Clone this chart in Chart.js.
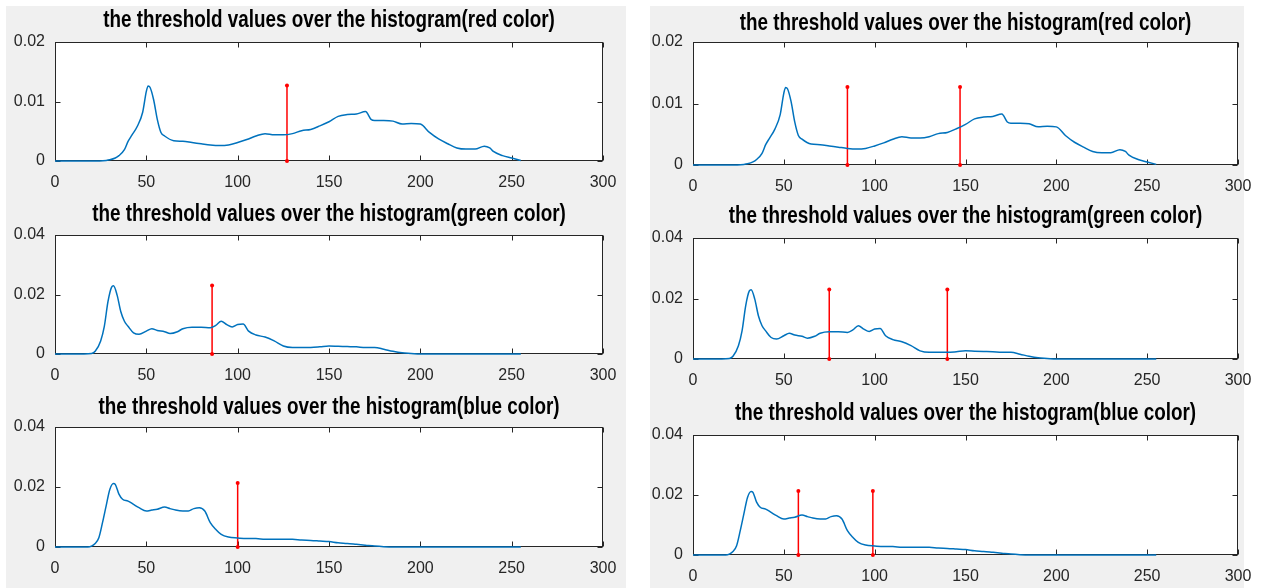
<!DOCTYPE html>
<html>
<head>
<meta charset="utf-8">
<script src="https://cdn.jsdelivr.net/npm/chart.js@4.4.1/dist/chart.umd.min.js"></script>
<style>
  html, body { margin: 0; padding: 0; background: #fff; }
  body { width: 1262px; height: 588px; position: relative; overflow: hidden; }
  .panel { position: absolute; background: #f0f0f0; }
  canvas { position: absolute; }
</style>
</head>
<body>
<div class="panel" style="left:6px;top:6px;width:620px;height:582px"></div>
<div class="panel" style="left:650px;top:6px;width:594px;height:582px"></div>

<script>
// histogram data (grey level -> normalised count)
const redLevels = [0, 10, 20, 28, 30, 33, 35, 38, 40, 42, 45, 48, 50, 51, 52, 54, 56, 58, 60, 65,
  70, 75, 80, 85, 90, 95, 100, 105, 110, 115, 120, 125, 130, 135, 140, 145, 150, 155, 160, 165,
  170, 173, 175, 180, 185, 190, 195, 200, 205, 210, 215, 220, 225, 230, 235, 238, 240, 245, 250, 255];
const redValues = [0, 0, 0, 0.0001, 0.0002, 0.0005, 0.0009, 0.0019, 0.0033, 0.0043, 0.0058, 0.0082, 0.0117, 0.0126, 0.0124, 0.0103, 0.007, 0.0048, 0.0042, 0.0034,
  0.0033, 0.0031, 0.0029, 0.0027, 0.0026, 0.0027, 0.0031, 0.0036, 0.0042, 0.0046, 0.0044, 0.0044, 0.0046, 0.0051, 0.0053, 0.0059, 0.0066, 0.0075, 0.0078, 0.0079,
  0.0083, 0.007, 0.0068, 0.0068, 0.0067, 0.0062, 0.0063, 0.0062, 0.0048, 0.0037, 0.0029, 0.0022, 0.002, 0.002, 0.0025, 0.0022, 0.0016, 0.0009, 0.0005, 0.0001];

const greenLevels = [0, 10, 20, 22, 25, 27, 29, 31, 32, 34, 36, 38, 40, 43, 46, 50, 53, 56, 60, 63,
  67, 70, 75, 80, 85, 88, 91, 94, 97, 100, 103, 106, 110, 115, 120, 125, 130, 135, 140, 145,
  150, 155, 160, 165, 170, 175, 180, 185, 190, 195, 200, 255];
const greenValues = [0, 0, 0.0002, 0.0009, 0.0044, 0.0093, 0.0176, 0.0225, 0.0229, 0.0198, 0.0143, 0.011, 0.0093, 0.0071, 0.0066, 0.0077, 0.0085, 0.0079, 0.0075, 0.0069,
  0.0075, 0.0085, 0.009, 0.009, 0.0088, 0.0096, 0.011, 0.0099, 0.0091, 0.0099, 0.0101, 0.0077, 0.0064, 0.0057, 0.0044, 0.0027, 0.0022, 0.0022, 0.0022, 0.0024,
  0.0027, 0.0026, 0.0025, 0.0024, 0.0022, 0.0022, 0.0016, 0.0009, 0.0004, 0.0002, 0, 0];

const blueLevels = [0, 10, 18, 20, 22, 24, 26, 28, 30, 32, 33, 35, 37, 40, 43, 46, 50, 53, 56, 60,
  63, 66, 70, 73, 76, 79, 82, 85, 88, 91, 95, 100, 105, 110, 115, 120, 125, 130, 135, 140,
  145, 150, 155, 160, 165, 170, 175, 180, 185, 255];
const blueValues = [0, 0, 0, 0.0003, 0.0012, 0.0031, 0.0081, 0.0137, 0.0192, 0.0212, 0.0209, 0.0176, 0.0159, 0.0153, 0.0142, 0.0131, 0.012, 0.0123, 0.0126, 0.0133,
  0.0128, 0.0123, 0.012, 0.012, 0.0128, 0.0131, 0.012, 0.0081, 0.0059, 0.0042, 0.0033, 0.003, 0.0028, 0.0028, 0.0026, 0.0026, 0.0026, 0.0026, 0.0023, 0.0022,
  0.002, 0.0018, 0.0014, 0.0012, 0.0009, 0.0006, 0.0003, 0.0001, 0, 0];

// thresholds (left figure: one level, right figure: two levels)
const redThreshLeft = [127];
const redThreshRight = [85, 147];
const greenThreshLeft = [86];
const greenThreshRight = [75, 140];
const blueThreshLeft = [100];
const blueThreshRight = [58, 99];
const stemHeights = [0.0127, 0.023, 0.0213];

const titles = [
  'the threshold values over the histogram(red color)',
  'the threshold values over the histogram(green color)',
  'the threshold values over the histogram(blue color)'
];
const yMax = [0.02, 0.04, 0.04];
const yStep = [0.01, 0.02, 0.02];
const xTicks = [0, 50, 100, 150, 200, 250, 300];

// layout of the six axes boxes [x0, x1, y0, y1, title gap]
const boxes = [
  [55, 603, 42, 161, 21], [693, 1238, 42, 165, 18],
  [55, 603, 235, 354, 20], [693, 1238, 238, 359, 21],
  [55, 603, 427, 547, 19], [693, 1238, 435, 555, 21]
];

const AXIS = '#262626';

// MATLAB-like box with inward ticks, plus a condensed bold title
const boxPlugin = {
  id: 'matlabBox',
  beforeDraw(chart) {
    const { ctx, chartArea: a } = chart;
    ctx.save();
    ctx.fillStyle = '#fff';
    ctx.fillRect(a.left, a.top, a.right - a.left, a.bottom - a.top);
    ctx.restore();
  },
  beforeDatasetsDraw(chart) {
    const { ctx, chartArea: a } = chart;
    const x = chart.scales.x, y = chart.scales.y;
    ctx.save();
    ctx.strokeStyle = AXIS;
    ctx.lineWidth = 1;
    const L = Math.round(a.left) + 0.5, R = Math.round(a.right) - 0.5;
    const T = Math.round(a.top) + 0.5, B = Math.round(a.bottom) - 0.5;
    ctx.strokeRect(L, T, R - L, B - T);
    ctx.beginPath();
    x.ticks.forEach(t => {
      const px = Math.round(x.getPixelForValue(t.value)) + 0.5;
      ctx.moveTo(px, B); ctx.lineTo(px, B - 5);
      ctx.moveTo(px, T); ctx.lineTo(px, T + 5);
    });
    y.ticks.forEach(t => {
      const py = Math.round(y.getPixelForValue(t.value)) + 0.5;
      ctx.moveTo(L, py); ctx.lineTo(L + 5, py);
      ctx.moveTo(R, py); ctx.lineTo(R - 5, py);
    });
    ctx.stroke();
    ctx.restore();
  },
  afterDraw(chart, args, opts) {
    const { ctx, chartArea: a } = chart;
    ctx.save();
    ctx.font = "bold 23px 'Liberation Sans', Arial";
    ctx.fillStyle = '#000';
    ctx.textAlign = 'center';
    ctx.textBaseline = 'middle';
    ctx.translate((a.left + a.right) / 2, a.top - opts.gap);
    ctx.scale(0.82, 1);
    ctx.fillText(opts.text, 0, 0);
    ctx.restore();
  }
};

const TOP = 40, BOTTOM = 34, LEFT = 55, RIGHT = 20;

function makeChart(idx, levels, values, thresholds, row) {
  const [x0, x1, y0, y1, gap] = boxes[idx];
  const cv = document.createElement('canvas');
  const w = (x1 - x0) + LEFT + RIGHT;
  const h = (y1 - y0) + TOP + BOTTOM;
  cv.width = w; cv.height = h;
  cv.style.left = (x0 - LEFT) + 'px';
  cv.style.top = (y0 - TOP) + 'px';
  cv.style.width = w + 'px';
  cv.style.height = h + 'px';
  document.body.appendChild(cv);

  const datasets = [{
    data: levels.map((l, i) => ({ x: l, y: values[i] })),
    borderColor: '#0072BD',
    borderWidth: 1.5,
    pointRadius: 0,
    showLine: true,
    cubicInterpolationMode: 'monotone',
    clip: 3
  }];
  thresholds.forEach(t => {
    datasets.push({
      data: [{ x: t, y: 0 }, { x: t, y: stemHeights[row] }],
      borderColor: '#ff0000',
      backgroundColor: '#ff0000',
      borderWidth: 1.5,
      pointRadius: 2,
      pointBorderWidth: 0,
      showLine: true,
      clip: false
    });
  });

  new Chart(cv, {
    type: 'scatter',
    data: { datasets },
    options: {
      responsive: false,
      animation: false,
      devicePixelRatio: 1,
      layout: { padding: { left: 0, right: RIGHT, top: TOP, bottom: 0 } },
      plugins: {
        legend: { display: false },
        tooltip: { enabled: false },
        title: { display: false },
        matlabBox: { text: titles[row], gap: gap }
      },
      scales: {
        x: {
          type: 'linear',
          min: 0, max: 300,
          afterBuildTicks: s => { s.ticks = xTicks.map(v => ({ value: v })); },
          afterFit: s => { s.height = BOTTOM; s.paddingLeft = 0; s.paddingRight = 0; },
          grid: { display: false, drawTicks: false },
          border: { display: false },
          ticks: {
            padding: 12,
            color: AXIS,
            maxRotation: 0,
            font: { family: "'Liberation Sans', Arial", size: 16 },
            callback: v => String(v)
          }
        },
        y: {
          min: 0, max: yMax[row],
          ticks: {
            stepSize: yStep[row],
            padding: 10,
            color: AXIS,
            font: { family: "'Liberation Sans', Arial", size: 16 },
            callback: v => String(Math.round(v * 1000) / 1000)
          },
          afterFit: s => { s.width = LEFT; s.paddingTop = 0; s.paddingBottom = 0; },
          grid: { display: false, drawTicks: false },
          border: { display: false }
        }
      }
    },
    plugins: [boxPlugin]
  });
}

makeChart(0, redLevels, redValues, redThreshLeft, 0);
makeChart(1, redLevels, redValues, redThreshRight, 0);
makeChart(2, greenLevels, greenValues, greenThreshLeft, 1);
makeChart(3, greenLevels, greenValues, greenThreshRight, 1);
makeChart(4, blueLevels, blueValues, blueThreshLeft, 2);
makeChart(5, blueLevels, blueValues, blueThreshRight, 2);
</script>
</body>
</html>
